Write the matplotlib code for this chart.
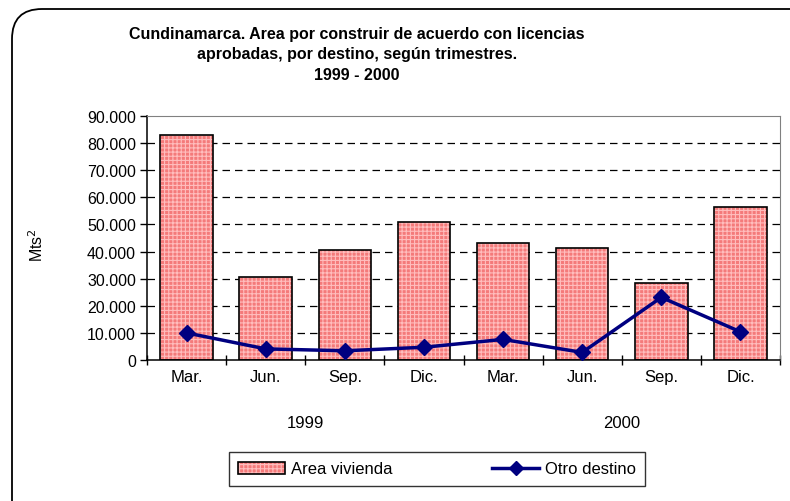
import numpy as np
import matplotlib.pyplot as plt
from matplotlib.patches import FancyBboxPatch, Patch
from matplotlib.lines import Line2D
from matplotlib.legend_handler import HandlerTuple
from matplotlib.ticker import FuncFormatter, MultipleLocator

plt.rcParams["font.family"] = ["Liberation Sans", "DejaVu Sans"]
plt.rcParams["hatch.linewidth"] = 0.8

quarters = ["Mar.", "Jun.", "Sep.", "Dic.", "Mar.", "Jun.", "Sep.", "Dic."]
years = ["1999", "2000"]
area_vivienda = [83100, 30500, 40700, 50800, 43000, 41300, 28300, 56500]
otro_destino = [10000, 4100, 3400, 4700, 7600, 2800, 23100, 10400]

title = ("Cundinamarca. Area por construir de acuerdo con licencias\n"
         "aprobadas, por destino, según trimestres.\n"
         "1999 - 2000")

bar_face = "#F47A7A"
bar_hatch = "#FFBDBD"
line_col = "#000080"
fs = 11.5

fig = plt.figure(figsize=(7.9, 5.02), dpi=100)
ax = fig.add_axes([147/790, 1 - 361/502, 633/790, 244/502])

# rounded outer frame (inches), runs off the right/bottom edge like the source
frame = FancyBboxPatch((0.12, -0.4), 8.2, 5.02 - 0.10 + 0.4,
                       boxstyle="round,pad=0,rounding_size=0.3",
                       transform=fig.dpi_scale_trans, fill=False,
                       edgecolor="black", linewidth=1.3, clip_on=False)
fig.patches.append(frame)

x = np.arange(len(quarters))
ax.bar(x, area_vivienda, width=0.665, color=bar_face, hatch="++++",
       edgecolor=bar_hatch, linewidth=0, zorder=2)
ax.bar(x, area_vivienda, width=0.665, fill=False, edgecolor="black",
       linewidth=1.2, zorder=3)
ax.plot(x, otro_destino, color=line_col, linewidth=2.5, marker="D",
        markersize=8, zorder=4)

ax.set_xlim(-0.5, len(quarters) - 0.5)
ax.set_ylim(0, 90000)
ax.yaxis.set_major_locator(MultipleLocator(10000))
ax.yaxis.set_major_formatter(FuncFormatter(lambda v, p: f"{int(v):,}".replace(",", ".")))
for yv in range(10000, 90000, 10000):
    ax.axhline(yv, color="black", linewidth=0.9, linestyle=(0, (6, 4)), zorder=1)

ax.set_xticks(np.arange(-0.5, len(quarters), 1.0))
ax.set_xticklabels([])
ax.tick_params(axis="x", direction="inout", length=7, width=1)
ax.tick_params(axis="y", direction="out", length=5, width=1, labelsize=fs, pad=3)
for i, q in enumerate(quarters):
    ax.text(i, -0.068, q, transform=ax.get_xaxis_transform(), ha="center",
            va="center", fontsize=fs + 0.5)
for j, yr in enumerate(years):
    ax.text(j * 4 + 1.5, -0.255, yr, transform=ax.get_xaxis_transform(),
            ha="center", va="center", fontsize=fs + 0.5)

for s in ["top", "right"]:
    ax.spines[s].set_color("#808080")
ax.spines["left"].set_linewidth(1.1)
ax.spines["bottom"].set_linewidth(1.1)

fig.text(37/790, 1 - 245/502, "Mts$^2$", rotation=90, ha="center",
         va="center", fontsize=fs)
fig.text(357/790, 1 - 55/502, title, ha="center", va="center",
         fontsize=11.5, fontweight="bold", linespacing=1.5)

bar_handle = (Patch(facecolor=bar_face, edgecolor=bar_hatch, linewidth=0,
                    hatch="++++"),
              Patch(fill=False, edgecolor="black", linewidth=1.2))
line_handle = Line2D([], [], color=line_col, linewidth=2.5, marker="D",
                     markersize=7)
leg = fig.legend([bar_handle, line_handle], ["Area vivienda", "Otro destino"],
                 handler_map={tuple: HandlerTuple(ndivide=1, pad=0)},
                 loc="center",
                 bbox_to_anchor=(185/790, 1 - 489/502, 504/790, 38/502),
                 ncol=2, frameon=True, fancybox=False, edgecolor="black",
                 fontsize=fs + 0.5, columnspacing=6.0, handlelength=2.8,
                 handletextpad=0.35, borderpad=0.55, borderaxespad=0)
leg.get_frame().set_linewidth(1.0)

fig.savefig("out.png", dpi=100)
